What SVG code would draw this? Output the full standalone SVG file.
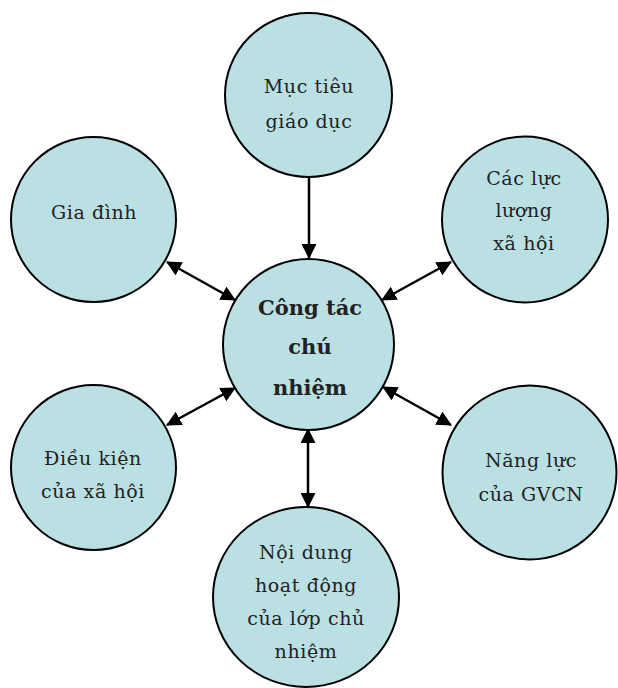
<svg xmlns="http://www.w3.org/2000/svg" width="618" height="688" viewBox="0 0 618 688">
  <defs>
    <marker id="ah" viewBox="0 0 15 15" refX="14" refY="7.5" markerWidth="15" markerHeight="15" markerUnits="userSpaceOnUse" orient="auto-start-reverse">
      <path d="M0,0 L15,7.5 L0,15 z" fill="#000"/>
    </marker>
    <style>
      .node { fill: #BBE0E3; stroke: #000; stroke-width: 2; }
      .lbl { font-family: "DejaVu Serif", "Liberation Serif", serif; font-size: 19px; letter-spacing: 0.6px; fill: #222; text-anchor: middle; }
      .main { font-family: "DejaVu Serif", "Liberation Serif", serif; font-size: 21px; font-weight: bold; fill: #222; text-anchor: middle; }
      .conn { stroke: #000; stroke-width: 2.5; fill: none; }
    </style>
  </defs>
  <rect width="618" height="688" fill="#fff"/>
  <g id="connectors">
    <line class="conn" x1="309" y1="177" x2="309" y2="258" stroke-width="3" marker-end="url(#ah)"/>
    <line class="conn" x1="167" y1="262" x2="235" y2="300" marker-start="url(#ah)" marker-end="url(#ah)"/>
    <line class="conn" x1="451" y1="262" x2="382" y2="300" marker-start="url(#ah)" marker-end="url(#ah)"/>
    <line class="conn" x1="167" y1="425" x2="235" y2="388" marker-start="url(#ah)" marker-end="url(#ah)"/>
    <line class="conn" x1="451" y1="425" x2="383" y2="387" marker-start="url(#ah)" marker-end="url(#ah)"/>
    <line class="conn" x1="308" y1="429" x2="308" y2="507" marker-start="url(#ah)" marker-end="url(#ah)"/>
  </g>
  <g id="muc-tieu">
    <ellipse class="node" cx="308.5" cy="95" rx="83.5" ry="82"/>
    <text class="lbl" x="309" y="93">Mục tiêu</text>
    <text class="lbl" x="309" y="128">giáo dục</text>
  </g>
  <g id="gia-dinh">
    <circle class="node" cx="93.5" cy="219.5" r="82.5"/>
    <text class="lbl" x="94" y="219">Gia đình</text>
  </g>
  <g id="cac-luc-luong">
    <circle class="node" cx="525" cy="219.5" r="83"/>
    <text class="lbl" x="524" y="185">Các lực</text>
    <text class="lbl" x="524" y="217">lượng</text>
    <text class="lbl" x="524" y="250">xã hội</text>
  </g>
  <g id="cong-tac">
    <circle class="node" cx="308.5" cy="344.5" r="85.5"/>
    <text class="main" x="310" y="315">Công tác</text>
    <text class="main" x="310" y="354">chú</text>
    <text class="main" x="310" y="395">nhiệm</text>
  </g>
  <g id="dieu-kien">
    <circle class="node" cx="93.5" cy="467.5" r="82.5"/>
    <text class="lbl" x="93" y="465">Điều kiện</text>
    <text class="lbl" x="93" y="498">của xã hội</text>
  </g>
  <g id="nang-luc">
    <circle class="node" cx="529.5" cy="472.5" r="87"/>
    <text class="lbl" x="531" y="467">Năng lực</text>
    <text class="lbl" x="531" y="501">của GVCN</text>
  </g>
  <g id="noi-dung">
    <ellipse class="node" cx="306" cy="597" rx="93" ry="90"/>
    <text class="lbl" x="306" y="559">Nội dung</text>
    <text class="lbl" x="306" y="592">hoạt động</text>
    <text class="lbl" x="306" y="625">của lớp chủ</text>
    <text class="lbl" x="306" y="658">nhiệm</text>
  </g>
</svg>
